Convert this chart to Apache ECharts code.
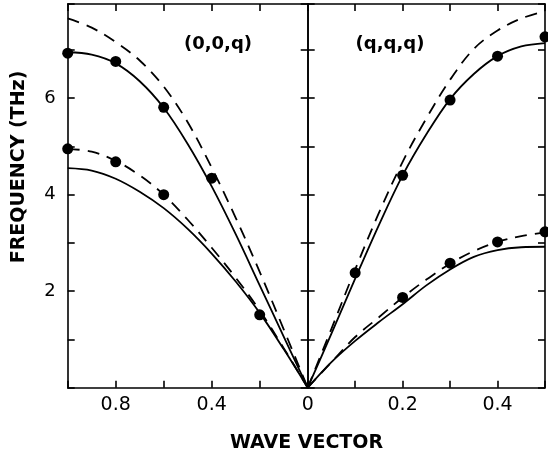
<!DOCTYPE html>
<html><head><meta charset="utf-8">
<script src="https://cdn.jsdelivr.net/npm/echarts@6/dist/echarts.min.js"></script>
<style>html,body{margin:0;padding:0;background:#fff}#c{width:548px;height:458px}</style>
</head><body><div id="c"></div>
<script>
// (0,0,q) direction: reduced wave vector from the zone boundary (1.0) down to 0
const qLeft = [1.0, 0.9, 0.8, 0.7, 0.6, 0.5, 0.4, 0.3, 0.2, 0.1, 0];
const leftUpperSolid  = [6.95, 6.90, 6.72, 6.35, 5.80, 5.05, 4.17, 3.18, 2.12, 1.06, 0];
const leftUpperDashed = [7.65, 7.46, 7.16, 6.78, 6.24, 5.50, 4.56, 3.52, 2.40, 1.21, 0];
const leftLowerSolid  = [4.55, 4.50, 4.33, 4.06, 3.72, 3.29, 2.78, 2.20, 1.55, 0.80, 0];
const leftLowerDashed = [4.95, 4.89, 4.70, 4.40, 4.00, 3.48, 2.90, 2.28, 1.60, 0.82, 0];
const leftUpperDotsQ = [1.0, 0.8, 0.6, 0.4];
const leftUpperDots  = [6.93, 6.76, 5.81, 4.34];
const leftLowerDotsQ = [1.0, 0.8, 0.6, 0.2];
const leftLowerDots  = [4.95, 4.68, 4.00, 1.51];

// (q,q,q) direction: wave vector from 0 to the zone boundary (0.5)
const qRight = [0, 0.05, 0.1, 0.15, 0.2, 0.25, 0.3, 0.35, 0.4, 0.45, 0.5];
const rightUpperSolid  = [0, 1.12, 2.26, 3.37, 4.40, 5.25, 5.98, 6.50, 6.87, 7.07, 7.14];
const rightUpperDashed = [0, 1.22, 2.45, 3.62, 4.68, 5.58, 6.38, 7.02, 7.40, 7.65, 7.80];
const rightLowerSolid  = [0, 0.53, 0.97, 1.36, 1.73, 2.12, 2.45, 2.71, 2.85, 2.91, 2.92];
const rightLowerDashed = [0, 0.53, 1.05, 1.46, 1.87, 2.24, 2.57, 2.83, 3.02, 3.14, 3.22];
const rightUpperDotsQ = [0.1, 0.2, 0.3, 0.4, 0.5];
const rightUpperDots  = [2.38, 4.40, 5.96, 6.87, 7.27];
const rightLowerDotsQ = [0.2, 0.3, 0.4, 0.5];
const rightLowerDots  = [1.87, 2.58, 3.02, 3.23];

const yLabels = [2, 4, 6];
const leftXLabels = [0.8, 0.4];
const rightXLabels = [0, 0.2, 0.4];

const FONT = '"DejaVu Sans", sans-serif';
const pair = (xs, ys) => xs.map((x, i) => [x, ys[i]]);
const near = (v, list) => list.find(t => Math.abs(v - t) < 1e-6);

const axisLine = { show: true, onZero: false, lineStyle: { color: '#000', width: 1.6 } };
const tickIn = { show: true, inside: true, length: 7, lineStyle: { color: '#000', width: 1.6 } };
const noSplit = { show: false };

function labelFmt(labels) {
  return v => { const t = near(v, labels); return t === undefined ? '' : String(t); };
}
function xAxis(grid, pos, max, interval, inverse, labels) {
  return {
    gridIndex: grid, type: 'value', position: pos, min: 0, max: max, interval: interval,
    inverse: inverse, axisLine: axisLine, axisTick: tickIn, splitLine: noSplit,
    axisLabel: labels
      ? { margin: 8, color: '#000', fontFamily: FONT, fontSize: 19, formatter: labelFmt(labels) }
      : { show: false }
  };
}
function yAxis(grid, pos, labels) {
  return {
    gridIndex: grid, type: 'value', position: pos, min: 0, max: 7.95, interval: 1,
    axisLine: axisLine, axisTick: tickIn, splitLine: noSplit,
    axisLabel: labels
      ? { margin: 12, color: '#000', fontFamily: FONT, fontSize: 18, formatter: labelFmt(labels) }
      : { show: false }
  };
}

function curve(xi, yi, xs, ys, dashed) {
  return {
    type: 'line', xAxisIndex: xi, yAxisIndex: yi, data: pair(xs, ys),
    smooth: 0.35, showSymbol: false, silent: true,
    lineStyle: { color: '#000', width: 1.8, type: dashed ? [12, 8] : 'solid' }
  };
}
function dots(xi, yi, xs, ys) {
  return {
    type: 'scatter', xAxisIndex: xi, yAxisIndex: yi, data: pair(xs, ys),
    symbol: 'circle', symbolSize: 11, clip: false, z: 5,
    itemStyle: { color: '#000', opacity: 1 }
  };
}

const chart = echarts.init(document.getElementById('c'), null, { renderer: 'canvas' });
chart.setOption({
  animation: false,
  backgroundColor: '#fff',
  grid: [
    { left: 67.7, top: 4, width: 240, height: 383.7 },
    { left: 307.7, top: 4, width: 238.8, height: 383.7 }
  ],
  xAxis: [
    xAxis(0, 'bottom', 1, 0.2, true, leftXLabels),
    xAxis(0, 'top', 1, 0.2, true, null),
    xAxis(1, 'bottom', 0.5, 0.1, false, rightXLabels),
    xAxis(1, 'top', 0.5, 0.1, false, null)
  ],
  yAxis: [
    yAxis(0, 'left', yLabels),
    yAxis(0, 'right', null),
    yAxis(1, 'left', null),
    yAxis(1, 'right', null)
  ],
  series: [
    curve(0, 0, qLeft, leftUpperSolid, false),
    curve(0, 0, qLeft, leftUpperDashed, true),
    curve(0, 0, qLeft, leftLowerSolid, false),
    curve(0, 0, qLeft, leftLowerDashed, true),
    dots(0, 0, leftUpperDotsQ, leftUpperDots),
    dots(0, 0, leftLowerDotsQ, leftLowerDots),
    curve(2, 2, qRight, rightUpperSolid, false),
    curve(2, 2, qRight, rightUpperDashed, true),
    curve(2, 2, qRight, rightLowerSolid, false),
    curve(2, 2, qRight, rightLowerDashed, true),
    dots(2, 2, rightUpperDotsQ, rightUpperDots),
    dots(2, 2, rightLowerDotsQ, rightLowerDots)
  ],
  graphic: [
    { type: 'text', x: 218, y: 44, style: { text: '(0,0,q)', font: 'bold 18px ' + FONT, fill: '#000', align: 'center', verticalAlign: 'middle' } },
    { type: 'text', x: 390, y: 44, style: { text: '(q,q,q)', font: 'bold 18px ' + FONT, fill: '#000', align: 'center', verticalAlign: 'middle' } },
    { type: 'text', x: 19.5, y: 167, rotation: Math.PI / 2, style: { text: 'FREQUENCY (THz)', font: 'bold 19px ' + FONT, fill: '#000', align: 'center', verticalAlign: 'middle' } },
    { type: 'text', x: 306.5, y: 443, style: { text: 'WAVE VECTOR', font: 'bold 19px ' + FONT, fill: '#000', align: 'center', verticalAlign: 'middle' } }
  ]
});
</script>
</body></html>
